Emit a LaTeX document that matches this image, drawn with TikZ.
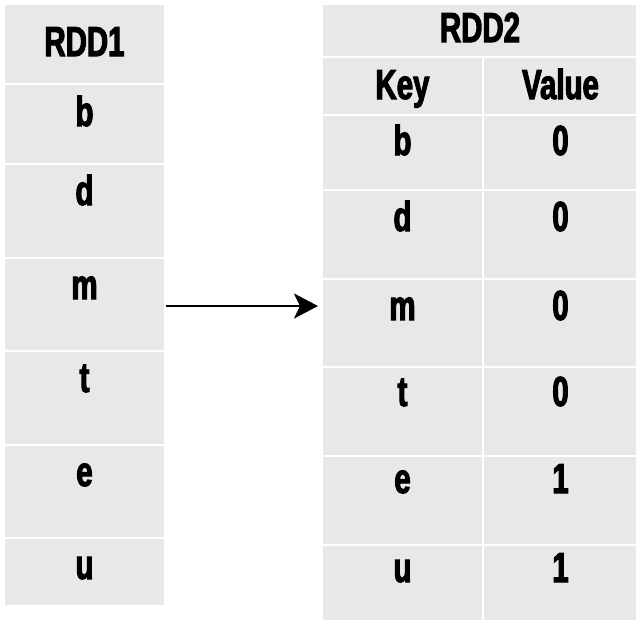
\documentclass[tikz,border=0pt]{standalone}
\usepackage{fontspec}
\newfontfamily\cond{Liberation Sans Bold}[FakeStretch=0.70, FakeBold=2.5]
\usetikzlibrary{arrows.meta,fit}
\definecolor{cellgray}{RGB}{232,232,232}
\tikzset{
  cell/.style={draw=white, line width=2pt, fill=cellgray, inner sep=0pt},
  lbl/.style={font=\fontsize{42}{42}\cond, inner sep=0pt},
  arr/.style={-{Stealth[length=24pt,width=25pt,inset=6pt]}, line width=2.5pt, black, shorten >=3pt}
}
\newcommand\mycell[7]{%
  \node[cell, fit={(#2,#3) (#4,#5)}] (#1) {};
  \node[lbl, anchor=base] (#1t) at ([yshift=-#6pt]#1.north) {#7};
}
\begin{document}
\begin{tikzpicture}[x=1pt,y=-1pt]
\useasboundingbox (0,0) rectangle (636,619);
% left table RDD1
\mycell{lh}{4}{4}{165}{84}{53}{RDD1}
\mycell{lb}{4}{84}{165}{164}{43}{b}
\mycell{ld}{4}{164}{165}{258}{42}{d}
\mycell{lm}{4}{258}{165}{351}{42}{m}
\mycell{lt}{4}{351}{165}{445}{42}{t}
\mycell{le}{4}{445}{165}{538}{42}{e}
\mycell{lu}{4}{538}{165}{606}{42}{u}
% right table RDD2
\mycell{rh}{322}{4}{638}{57}{39}{RDD2}
\mycell{rk}{322}{57}{483}{115}{43}{Key}
\mycell{rv}{483}{57}{638}{115}{43}{Value}
\mycell{rbk}{322}{115}{483}{190}{41}{b}
\mycell{rbv}{483}{115}{638}{190}{41}{0}
\mycell{rdk}{322}{190}{483}{279}{42}{d}
\mycell{rdv}{483}{190}{638}{279}{42}{0}
\mycell{rmk}{322}{279}{483}{367}{42}{m}
\mycell{rmv}{483}{279}{638}{367}{42}{0}
\mycell{rtk}{322}{367}{483}{456}{40}{t}
\mycell{rtv}{483}{367}{638}{456}{40}{0}
\mycell{rek}{322}{456}{483}{545}{38}{e}
\mycell{rev}{483}{456}{638}{545}{38}{1}
\mycell{ruk}{322}{545}{483}{622}{38}{u}
\mycell{ruv}{483}{545}{638}{622}{38}{1}
% arrow
\draw[arr] ([yshift=-1.5pt]lm.east) -- ([yshift=-1.5pt]lm.east -| rmk.west);
\end{tikzpicture}
\end{document}
